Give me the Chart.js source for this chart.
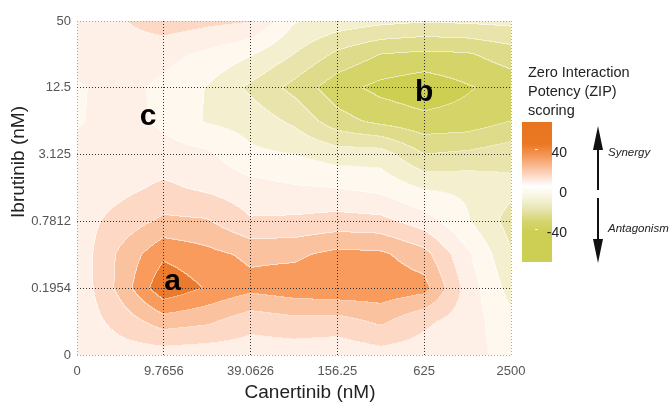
<!DOCTYPE html>
<html>
<head>
<meta charset="utf-8">
<script src="https://cdn.jsdelivr.net/npm/chart.js@4.4.0/dist/chart.umd.min.js"></script>
<style>
  html, body { margin: 0; padding: 0; background: #fff; }
  #wrap { width: 670px; height: 403px; }
</style>
</head>
<body>
<div id="wrap"><canvas id="zipChart" width="670" height="403"></canvas></div>
<script>
// tick labels (nM)
const canertinibLabels = ['0', '9.7656', '39.0626', '156.25', '625', '2500'];
const ibrutinibLabels = ['0', '0.1954', '0.7812', '3.125', '12.5', '50'];

// ZIP scores on a half-step grid: x index 0, 0.5, ... 5
// one array per ibrutinib row, bottom row (0 nM) first
const zipY0  = [2, 5, 5, 4, 4, 4, 3, 6, 5, 3, -3];
const zipY05 = [3, 14, 25, 22, 14, 17, 16, 22, 12, 5, -7];
const zipY1  = [2, 23, 48, 39, 33, 36, 38, 37, 34, 6, -14];
const zipY15 = [3, 22, 38, 33, 28, 28, 33, 32, 24, 2, -19];
const zipY2  = [5, 14, 22, 21, 11, 12, 14, 13, 5, -9, -24];
const zipY25 = [4, 7, 12, 8, 4, 1, 0, -3, -11, -12, -17];
const zipY3  = [3, 5, 4, 2, -8, -10, -15, -15, -30, -28, -24];
const zipY35 = [-1, 4, -2, -11, -14, -22, -36, -43, -47, -46, -40];
const zipY4  = [-1, 3, -2, -10.5, -22, -33, -46, -53, -57, -51, -46];
const zipY45 = [4, 5, 3, -2, -9, -20, -32, -40, -42, -41, -35];
const zipY5  = [5, 9, 16, 13, 11, -9, -14, -17, -19, -18, -17];
const zipRows = [zipY0, zipY05, zipY1, zipY15, zipY2, zipY25, zipY3, zipY35, zipY4, zipY45, zipY5];
const gridStep = 0.5;

// contour levels, and the fill of each band (lowest band first)
const bandLevels = [-50, -40, -30, -20, -10, 0, 10, 20, 30, 40];
const bandColors = ['#cccf52', '#d4d468', '#dedb8b', '#e8e4ab', '#f3efcf', '#fef8ee',
                    '#feefe7', '#fdd9c5', '#fbc29f', '#f89b5c', '#e97a2e'];

// region markers
const markerText = ['a', 'b', 'c'];
const markerX = [1.1, 4.0, 0.82];
const markerY = [1.1, 3.93, 3.57];

// colour key
const keyTicks = [40, 0, -40];
const keyStops = [[67, '#e8741e'], [45, '#ea7823'], [33, '#f4995a'], [18, '#fbcaae'], [3, '#ffffff'],
                  [-8, '#f7f5df'], [-20, '#e8e5b2'], [-33, '#d4d46c'], [-42, '#cdcf55'], [-73, '#cdcf55']];

const fontFamily = '"Liberation Sans", Arial, Helvetica, sans-serif';

function hexToRgb(h) {
    const n = parseInt(h.slice(1), 16);
    return [(n >> 16) & 255, (n >> 8) & 255, n & 255];
}

function zipAt(gx, gy) {
    const n = zipRows.length - 1;
    gx = Math.min(Math.max(gx, 0), n);
    gy = Math.min(Math.max(gy, 0), n);
    const i = Math.min(Math.floor(gx), n - 1);
    const j = Math.min(Math.floor(gy), n - 1);
    const fx = gx - i, fy = gy - j;
    const r0 = zipRows[j], r1 = zipRows[j + 1];
    const a = r0[i] * (1 - fx) + r0[i + 1] * fx;
    const b = r1[i] * (1 - fx) + r1[i + 1] * fx;
    return a * (1 - fy) + b * fy;
}

function bandOf(v) {
    let k = 0;
    while (k < bandLevels.length && v >= bandLevels[k]) k++;
    return k;
}

// filled contour map under the grid
const contourPlugin = {
    id: 'zipContour',
    beforeDraw(chart) {
        const { ctx, chartArea: area, scales } = chart;
        const left = Math.round(area.left), top = Math.round(area.top);
        const w = Math.round(area.right) - left, h = Math.round(area.bottom) - top;
        const bands = new Int8Array(w * h);
        for (let j = 0; j < h; j++) {
            const gy = scales.y.getValueForPixel(top + j + 0.5) / gridStep;
            for (let i = 0; i < w; i++) {
                const gx = scales.x.getValueForPixel(left + i + 0.5) / gridStep;
                bands[j * w + i] = bandOf(zipAt(gx, gy));
            }
        }
        const rgb = bandColors.map(hexToRgb);
        const off = document.createElement('canvas');
        off.width = w;
        off.height = h;
        const octx = off.getContext('2d');
        const img = octx.createImageData(w, h);
        for (let j = 0; j < h; j++) {
            for (let i = 0; i < w; i++) {
                const p = j * w + i;
                const b = bands[p];
                let c = rgb[b];
                const edge = (i < w - 1 && bands[p + 1] !== b) || (j < h - 1 && bands[p + w] !== b);
                const k = edge ? 0.5 : 0;
                img.data[p * 4] = c[0] + (255 - c[0]) * k;
                img.data[p * 4 + 1] = c[1] + (255 - c[1]) * k;
                img.data[p * 4 + 2] = c[2] + (255 - c[2]) * k;
                img.data[p * 4 + 3] = 255;
            }
        }
        octx.putImageData(img, 0, 0);
        ctx.drawImage(off, left, top);
    },
    afterDatasetsDraw(chart) {
        const { ctx } = chart;
        const meta = chart.getDatasetMeta(0);
        ctx.save();
        ctx.fillStyle = '#000';
        ctx.font = 'bold 30px ' + fontFamily;
        ctx.textAlign = 'center';
        ctx.textBaseline = 'middle';
        meta.data.forEach((pt, i) => {
            ctx.fillText(markerText[i], pt.x, pt.y);
        });
        ctx.restore();
    },
    afterDraw(chart) {
        const { ctx, chartArea: area } = chart;
        ctx.save();
        // axis titles
        ctx.fillStyle = '#222';
        ctx.font = '19px ' + fontFamily;
        ctx.textAlign = 'center';
        ctx.textBaseline = 'middle';
        ctx.fillText('Canertinib (nM)', (area.left + area.right) / 2 + 16, 393);
        ctx.save();
        ctx.translate(19, (area.top + area.bottom) / 2 - 26);
        ctx.rotate(-Math.PI / 2);
        ctx.fillText('Ibrutinib (nM)', 0, 0);
        ctx.restore();

        // colour key
        const kx = 522, kw = 30, vTop = 67, vBottom = -73;
        const keyY = v => 189 - v;
        ctx.textAlign = 'left';
        ctx.textBaseline = 'alphabetic';
        ctx.font = '14.5px ' + fontFamily;
        ['Zero Interaction', 'Potency (ZIP)', 'scoring'].forEach((t, i) => ctx.fillText(t, 528, 77 + i * 19));
        const grad = ctx.createLinearGradient(0, keyY(vTop), 0, keyY(vBottom));
        keyStops.forEach(s => grad.addColorStop((vTop - s[0]) / (vTop - vBottom), s[1]));
        ctx.fillStyle = grad;
        ctx.fillRect(kx, keyY(vTop), kw, vTop - vBottom);
        ctx.strokeStyle = 'rgba(255,255,255,0.8)';
        ctx.lineWidth = 1;
        ctx.fillStyle = '#222';
        ctx.font = '14px ' + fontFamily;
        ctx.textAlign = 'right';
        ctx.textBaseline = 'middle';
        keyTicks.forEach(v => {
            ctx.beginPath();
            ctx.moveTo(535, keyY(v) + 0.5);
            ctx.lineTo(538, keyY(v) + 0.5);
            ctx.stroke();
            ctx.fillText(String(v), 567, keyY(v) + 4);
        });

        // arrows
        ctx.fillStyle = '#111';
        ctx.fillRect(597, 145, 2, 45);
        ctx.beginPath();
        ctx.moveTo(598, 126); ctx.lineTo(603, 150); ctx.lineTo(593, 150); ctx.closePath();
        ctx.fill();
        ctx.fillRect(597, 198, 2, 45);
        ctx.beginPath();
        ctx.moveTo(598, 263); ctx.lineTo(603, 239); ctx.lineTo(593, 239); ctx.closePath();
        ctx.fill();
        ctx.fillStyle = '#222';
        ctx.font = 'italic 11.5px ' + fontFamily;
        ctx.textAlign = 'left';
        ctx.fillText('Synergy', 608, 153);
        ctx.fillText('Antagonism', 608, 229);
        ctx.restore();
    }
};

const gridColor = ctx => (ctx.index === 0 || ctx.index === 5) ? '#a8a8a8' : '#333';

new Chart(document.getElementById('zipChart'), {
    type: 'scatter',
    data: {
        datasets: [{
            data: markerX.map((x, i) => ({ x: x, y: markerY[i] })),
            pointRadius: 0
        }]
    },
    options: {
        responsive: false,
        animation: false,
        layout: { padding: { left: 0, right: 159, top: 21, bottom: 0 } },
        plugins: { legend: { display: false }, tooltip: { enabled: false } },
        scales: {
            x: {
                type: 'linear', min: 0, max: 5,
                afterFit(s) { s.height = 48; },
                ticks: {
                    stepSize: 1, padding: 9, color: '#555',
                    font: { size: 13, family: fontFamily },
                    callback: v => canertinibLabels[v]
                },
                grid: { color: gridColor, drawTicks: false, lineWidth: 1 },
                border: { display: false, dash: [1, 2] }
            },
            y: {
                type: 'linear', min: 0, max: 5,
                afterFit(s) { s.width = 77; },
                ticks: {
                    stepSize: 1, padding: 6, color: '#555',
                    font: { size: 13, family: fontFamily },
                    callback: v => ibrutinibLabels[v]
                },
                grid: { color: gridColor, drawTicks: false, lineWidth: 1 },
                border: { display: false, dash: [1, 2] }
            }
        }
    },
    plugins: [contourPlugin]
});
</script>
</body>
</html>
